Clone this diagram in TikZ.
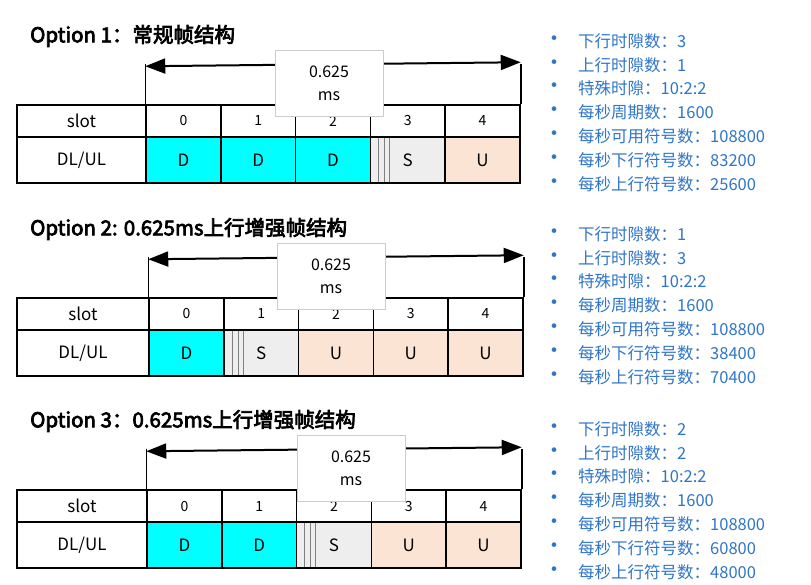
\documentclass[tikz,border=0pt]{standalone}
\usepackage{fontspec}
\setmainfont{Noto Sans CJK SC}[AutoFakeBold=3.5]
\usetikzlibrary{arrows.meta}
\definecolor{infoblue}{RGB}{47,117,200}
\definecolor{dlcyan}{RGB}{0,255,255}
\definecolor{ulpeach}{RGB}{251,228,211}
\definecolor{spgray}{RGB}{238,238,238}
\tikzset{
  cell/.style={draw=black,line width=1.5pt,minimum height=#1,inner sep=0pt,font=\fontsize{17}{17}\selectfont},
  cellD/.style={fill=dlcyan},
  cellU/.style={fill=ulpeach},
  cellS/.style={fill=spgray,path picture={
      \draw[gray,line width=0.6pt] ([xshift=8pt]path picture bounding box.south west) -- ([xshift=8pt]path picture bounding box.north west);
      \draw[gray,line width=0.6pt] ([xshift=14pt]path picture bounding box.south west) -- ([xshift=14pt]path picture bounding box.north west);
      \draw[gray,line width=0.6pt] ([xshift=19pt]path picture bounding box.south west) -- ([xshift=19pt]path picture bounding box.north west);}},
  msbox/.style={draw=gray!40,fill=white,minimum width=108pt,minimum height=66pt,align=center,font=\fontsize{16}{23}\selectfont},
  info/.style={anchor=west,text=infoblue,font=\fontsize{16.5}{16.5}\selectfont,inner sep=0pt}
}
\begin{document}
\begin{tikzpicture}[x=1pt,y=-1pt]
  \useasboundingbox (0,0) rectangle (811,584);
  % three frame options
  \foreach \k/\ty/\cz/\top/\bx/\types/\title in {
      1/36/146/105/329/{D,D,D,S,U}/{Option 1：常规帧结构},
      2/229/149/298/331/{D,S,U,U,U}/{Option 2: 0.625ms上行增强帧结构},
      3/421/147/490/351/{D,D,S,U,U}/{Option 3：0.625ms上行增强帧结构}} {
    \node[anchor=west,font=\bfseries\fontsize{20.5}{20.5}\selectfont,inner sep=0pt] (title\k) at (30,\ty) {\title};
    \node[cell=32pt,minimum width={\cz-17}] (slot\k) at ({(17+\cz)/2},\top+16) {slot};
    \node[cell=46pt,minimum width={\cz-17}] (dlul\k) at ({(17+\cz)/2},\top+55) {DL/UL};
    \foreach \t [count=\i from 0] in \types {
      \node[cell=32pt,minimum width=74.8pt,font=\fontsize{14}{14}\selectfont] (n\k\i) at (\cz+\i*74.8+37.4,\top+16) {\i};
      \node[cell=46pt,minimum width=74.8pt,cell\t] (c\k\i) at (\cz+\i*74.8+37.4,\top+55) {\t};
    }
    \draw[line width=1.5pt] (n\k0.north west) -- ++(0,-40) coordinate (al\k);
    \draw[line width=1.5pt] (n\k4.north east) -- ++(0,-40) coordinate (ar\k);
    \draw[line width=2pt,{Triangle[length=20pt,width=15pt]}-{Triangle[length=20pt,width=15pt]}] (al\k) ++(0,2) -- ([yshift=2pt]ar\k);
    \node[msbox] (ms\k) at (\bx,\top-22) {0.625\\ms};
  }
  % bullet lists
  \foreach \k/\y/\vals in {
      1/41/{下行时隙数：3,上行时隙数：1,特殊时隙：10:2:2,每秒周期数：1600,每秒可用符号数：108800,每秒下行符号数：83200,每秒上行符号数：25600},
      2/234/{下行时隙数：1,上行时隙数：3,特殊时隙：10:2:2,每秒周期数：1600,每秒可用符号数：108800,每秒下行符号数：38400,每秒上行符号数：70400},
      3/429/{下行时隙数：2,上行时隙数：2,特殊时隙：10:2:2,每秒周期数：1600,每秒可用符号数：108800,每秒下行符号数：60800,每秒上行符号数：48000}} {
    \foreach \v [count=\j from 0] in \vals {
      \node[info,font=\fontsize{22}{22}\selectfont] (b\k\j) at (543,\y+\j*23.8) {•};
      \node[info] (t\k\j) at (578,\y+\j*23.8) {\v};
    }
  }
\end{tikzpicture}
\end{document}
